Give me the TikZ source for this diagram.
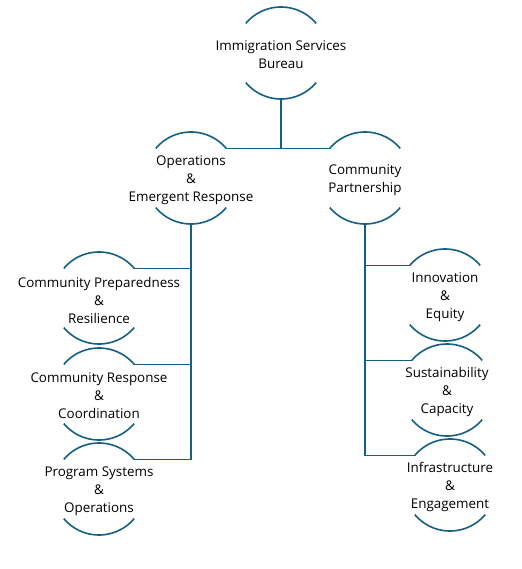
\documentclass[tikz,border=0pt]{standalone}
\usepackage{fontspec}
\setmainfont{Open Sans}
\usepackage{tikz}
\definecolor{orgblue}{HTML}{156082}
\newcommand{\orgunit}[4][]{\node[unit,#1] at (#2) (#3) {};
  \node[unittext] at ([yshift=-2pt]#3.center) (#3-t) {#4};
  \draw[unitarc] (#3.140) arc[start angle=140,end angle=40,radius=46pt];
  \draw[unitarc] (#3.220) arc[start angle=220,end angle=320,radius=46pt]}

\begin{document}
\begin{tikzpicture}[x=1pt,y=1pt,
    unit/.style={circle,minimum size=92pt,inner sep=0pt,outer sep=0pt},
    unittext/.style={align=center,inner sep=0pt,font=\fontsize{13.4}{18}\selectfont},
    unitarc/.style={orgblue,line width=1.6pt},
    link/.style={orgblue,line width=1.6pt}]
  \useasboundingbox (0,0) rectangle (521,-569);
  \orgunit{281,-53}{isb}{Immigration Services\\Bureau};
  \orgunit{191,-178}{ops}{Operations\\\&\\Emergent Response};
  \orgunit{365,-178}{cp}{Community\\Partnership};
  \orgunit{99,-298}{cpr}{Community Preparedness\\\&\\Resilience};
  \orgunit{99,-394}{crc}{Community Response\\\&\\Coordination};
  \orgunit{99,-489}{pso}{Program Systems\\\&\\Operations};
  \orgunit{445,-295}{ieq}{Innovation\\\&\\Equity};
  \orgunit{447,-390}{sca}{Sustainability\\\&\\Capacity};
  \orgunit{450,-485}{ien}{Infrastructure\\\&\\Engagement};
  \draw[link]
        (isb.south) -- (isb.south |- ops.40)
        (ops.40)    -- (cp.140);
  \draw[link]
        (ops.south) |- (cpr.40)
        (ops.south) |- (crc.40)
        (ops.south) |- (pso.40);
  \draw[link]
        (cp.south) |- (ieq.140)
        (cp.south) |- (sca.140)
        (cp.south) |- (ien.140);
\end{tikzpicture}
\end{document}
